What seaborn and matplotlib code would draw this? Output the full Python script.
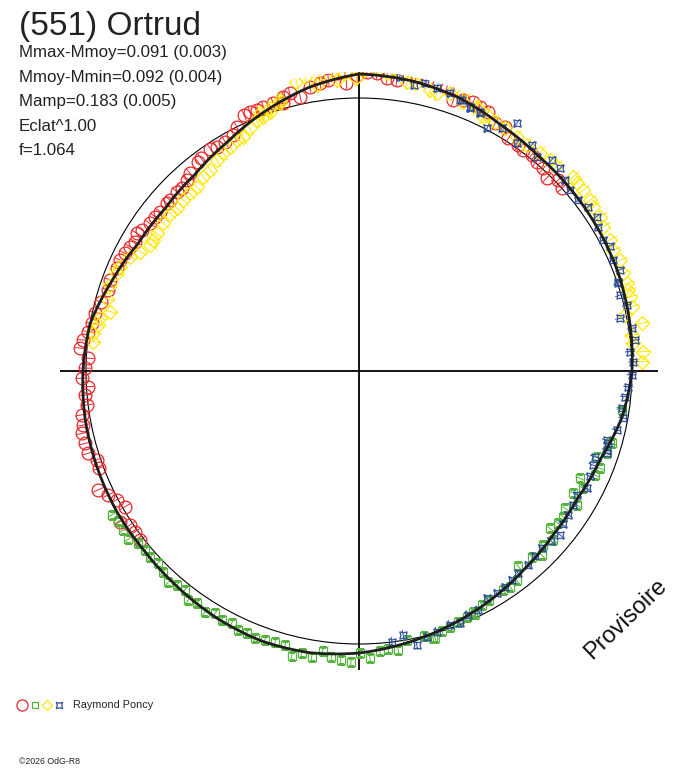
import numpy as np
import matplotlib
matplotlib.use("Agg")
import matplotlib.pyplot as plt
import seaborn as sns

sns.set_theme(style="white")
plt.rcParams['font.family'] = ['Liberation Sans', 'DejaVu Sans']

# texts
title = "(551) Ortrud"
info_lines = ["Mmax-Mmoy=0.091 (0.003)", "Mmoy-Mmin=0.092 (0.004)",
              "Mamp=0.183 (0.005)", "Eclat^1.00", "f=1.064"]
observer = "Raymond Poncy"
credit = "\u00a92026 OdG-R8"
stamp = "Provisoire"

# radial scale: reference circle and axis length (plot units)
ref_radius = 273
axis_radius = 299

# fitted light curve, phase in degrees (clockwise from top)
fit_phase = [0, 10, 20, 30, 40, 50, 60, 70, 80, 90, 100, 110, 120, 130, 140, 150, 160, 170,
             180, 190, 200, 210, 220, 230, 240, 250, 260, 270, 280, 290, 300, 310, 320, 330, 340, 350]
fit_r = [297, 295, 291, 284, 280, 279, 278, 277, 275, 273, 267, 257, 253, 254, 258, 264, 270, 276,
         282, 286, 287, 285, 282, 280, 280, 279, 278, 276, 273, 263, 255, 253, 256, 264, 276, 288]

# observations (4 sessions)
red_phase = [232.3, 234.3, 236.1, 237.8, 239.9, 242.0, 243.7, 245.5, 249.5, 251.3, 253.1, 255.2,
             257.3, 258.9, 261.0, 262.9, 265.0, 266.7, 268.5, 270.6, 272.7, 274.7, 276.4, 278.3,
             280.1, 282.5, 285.0, 287.9, 290.1, 293.0, 294.9, 296.7, 298.5, 300.0, 301.8, 303.0,
             305.2, 307.1, 308.7, 311.1, 312.1, 314.5, 315.9, 317.9, 319.5, 322.4, 323.4, 326.2,
             327.6, 329.7, 332.0, 333.4, 335.8, 337.2, 338.6, 340.1, 342.2, 344.2, 344.6, 346.0,
             347.9, 350.2, 352.3, 354.0, 356.0, 357.5, 359.6, 1.5, 3.4, 5.4, 7.4, 11.0, 13.1, 17.2,
             19.2, 21.0, 23.0, 24.6, 26.5, 28.8, 30.9, 32.7, 35.2, 36.6, 38.6, 40.3, 42.3, 44.2,
             46.2, 48.0]
red_r = [276.6, 275.7, 276.0, 282.5, 270.5, 274.5, 279.7, 286.6, 278.0, 277.0, 283.0, 283.4,
         284.0, 281.0, 280.8, 274.4, 275.0, 271.0, 277.4, 274.0, 271.0, 279.9, 277.4, 273.5,
         271.5, 270.0, 267.0, 263.5, 265.0, 263.2, 263.5, 262.0, 260.6, 258.6, 261.5, 259.0,
         256.0, 255.8, 254.9, 255.0, 254.9, 255.7, 254.6, 257.2, 260.0, 264.0, 265.0, 267.0,
         265.6, 265.6, 267.4, 273.2, 280.5, 281.3, 280.3, 281.1, 281.0, 278.2, 284.6, 286.0,
         280.6, 288.5, 290.3, 292.6, 298.4, 288.0, 296.0, 299.4, 298.2, 294.0, 293.4, 301.6, 298.8, 296.0,
         287.0, 290.4, 292.6, 290.7, 289.8, 282.6, 284.6, 276.5, 276.5, 275.4, 276.5, 274.6, 274.0, 269.0,
         276.0, 272.9]

green_phase = [98.4, 106.0, 106.1, 108.4, 109.8, 112.0, 113.8, 115.9, 117.6, 119.7, 121.6, 123.7,
               125.5, 127.4, 129.5, 131.0, 133.4, 135.2, 137.1, 140.8, 143.0, 145.0, 146.6, 150.5,
               152.3, 154.5, 154.6, 156.3, 158.4, 160.4, 162.3, 164.1, 164.5, 166.2, 169.9, 172.0,
               174.0, 175.7, 177.8, 179.8, 181.6, 183.6, 185.5, 187.4, 189.4, 191.5, 193.3, 195.1,
               197.2, 199.3, 201.3, 203.2, 205.0, 206.8, 208.9, 210.7, 212.6, 214.9, 216.7, 218.5,
               220.4, 222.1, 224.3, 226.3, 228.3, 230.1, 232.0, 233.9, 236.0, 238.0, 239.8]
green_r = [265.6, 262.8, 261.2, 261.0, 252.7, 259.9, 257.9, 245.7, 253.1, 246.7, 255.6, 247.6,
           250.9, 250.8, 247.4, 257.5, 253.5, 259.3, 253.6, 251.8, 261.8, 263.3, 262.3, 263.0,
           264.2, 269.3, 266.5, 268.3, 269.6, 271.4, 272.5, 277.9, 277.4, 272.9, 273.2, 281.8,
           279.5, 280.5, 286.9, 282.3, 290.8, 289.6, 287.0, 282.0, 289.6, 288.1, 292.8, 283.8,
           283.4, 285.0, 286.8, 285.3, 285.7, 282.6, 284.3, 281.9, 285.7, 283.4, 285.6, 279.7,
           281.1, 284.2, 280.3, 277.5, 280.0, 279.0, 280.0, 285.6, 284.3, 284.0, 286.2]

yellow_phase = [276.3, 278.1, 280.0, 281.5, 283.4, 286.0, 289.0, 292.0, 293.6, 296.5, 298.6, 301.1,
                302.5, 304.2, 307.0, 309.8, 311.8, 314.2, 316.4, 318.6, 321.3, 323.5, 326.0, 328.1,
                330.1, 332.1, 333.7, 335.8, 337.8, 339.0, 339.4, 341.1, 341.3, 343.6, 343.7, 347.8,
                349.6, 351.6, 353.4, 355.6, 357.3, 359.5, 1.1, 3.3, 5.3, 7.1, 9.4, 11.3, 14.2, 15.6,
                18.1, 20.6, 21.2, 24.0, 24.1, 26.0, 26.5, 28.6, 31.0, 33.9, 36.6, 39.7, 42.2, 44.0,
                47.8, 49.2, 51.1, 53.5, 55.0, 57.4, 59.4, 62.4, 64.6, 67.0, 69.7, 71.9, 73.3, 74.7,
                76.7, 78.1, 80.4, 82.5, 84.2, 86.1, 88.1]
yellow_r = [267.3, 268.3, 264.7, 264.3, 256.0, 262.0, 263.5, 261.3, 260.8, 256.0, 249.4, 244.0,
            243.9, 244.7, 245.2, 246.0, 244.3, 245.2, 245.2, 245.6, 249.0, 250.2, 254.5, 256.5,
            258.8, 261.4, 261.3, 266.0, 271.0, 276.0, 271.7, 274.1, 277.4, 279.1, 282.3, 296.0,
            299.2, 289.0, 298.0, 291.9, 298.0, 292.7, 301.0, 303.2, 299.0, 303.4, 293.2, 293.4, 289.8, 288.4,
            292.2, 296.6, 288.8, 289.3, 287.9, 283.0, 286.1, 284.0, 283.0, 282.4, 281.4, 283.1, 284.6, 284.3,
            289.3, 287.4, 288.2, 287.4, 286.2, 286.2, 283.7, 283.1, 281.6, 283.6, 281.8, 281.7, 281.2, 281.0,
            280.2, 271.8, 286.7, 275.0, 275.7, 285.0, 282.9]

blue_phase = [7.9, 10.8, 12.9, 15.4, 18.1, 20.4, 20.8, 22.8, 22.9, 25.0, 25.2, 27.8, 30.5, 32.5,
              34.7, 37.4, 39.7, 42.4, 44.8, 47.2, 49.4, 52.1, 54.4, 57.0, 58.9, 61.8, 63.5, 66.4,
              68.8, 71.0, 71.3, 73.8, 76.2, 78.6, 81.1, 83.6, 85.9, 88.1, 90.8, 93.3, 95.5, 98.1,
              100.1, 102.9, 105.6, 106.2, 107.7, 108.4, 110.0, 111.9, 114.5, 117.3, 119.5, 122.0,
              124.5, 127.0, 129.2, 131.5, 134.1, 136.5, 138.9, 141.8, 143.8, 146.0, 148.2, 150.7,
              153.5, 155.9, 158.2, 160.3, 163.4, 165.7, 168.1, 170.5, 173.1]
blue_r = [297.1, 291.1, 295.2, 293.2, 292.2, 289.2, 289.8, 286.7, 285.2, 286.1, 284.7, 274.2, 281.5, 293.6,
          277.0, 284.4, 278.4, 285.7, 285.5, 280.9, 278.0, 278.1, 282.1, 283.4, 279.4, 277.2, 281.0, 277.5,
          279.9, 274.3, 273.7, 271.8, 275.7, 266.3, 276.0, 277.7, 271.7, 274.5, 272.7, 269.8, 267.2, 265.3,
          268.5, 264.4, 257.1, 259.6, 260.0, 261.0, 251.1, 252.5, 254.0, 256.1, 251.0, 252.7,
          254.0, 255.0, 259.4, 256.0, 254.6, 255.0, 257.5, 257.5, 258.8, 261.0, 261.5, 260.7,
          267.1, 267.4, 271.8, 269.8, 272.0, 274.2, 280.0, 267.7, 272.7]

sessions = [
    # phase, r, marker, size, colour, error
    (red_phase, red_r, 'o', 9.2, '#e8262b', 6),
    (green_phase, green_r, 's', 6.0, '#55b33e', 5),
    (yellow_phase, yellow_r, 'D', 6.8, '#ffe800', 8),
    (blue_phase, blue_r, (4, 1, 45), 7.5, '#2f4f9f', 5),
]

W, H = 688, 768
fig = plt.figure(figsize=(W / 100, H / 100), dpi=100)
cx, cy = 359, 371
ax = fig.add_axes([(cx - axis_radius) / W, (H - cy - axis_radius) / H,
                   2 * axis_radius / W, 2 * axis_radius / H], projection='polar')
ax.set_theta_zero_location('N')
ax.set_theta_direction(-1)
ax.set_ylim(0, axis_radius)
ax.set_facecolor('none')
ax.spines['polar'].set_visible(False)
ax.set_thetagrids([0, 90, 180, 270], labels=[''] * 4)
ax.set_rgrids([ref_radius], labels=[''])
ax.xaxis.grid(True, color='black', linewidth=1.3)
ax.yaxis.grid(True, color='black', linewidth=0.8)
ax.tick_params(length=0)

for ph, rr, mk, ms, col, err in sessions:
    ax.errorbar(np.deg2rad(ph), rr, yerr=err, fmt='none', ecolor=col,
                elinewidth=0.7, capsize=0, zorder=3)
    ax.plot(np.deg2rad(ph), rr, linestyle='none', marker=mk, ms=ms, mfc='none',
            mec=col, mew=0.9, zorder=3)

# closed fitted curve, drawn along the polar grid between readings
fit_t = np.deg2rad(fit_phase + [360])
fit_y = fit_r + [fit_r[0]]
sns.lineplot(x=fit_t, y=fit_y, sort=False, estimator=None, color='#1e1e1e',
             linewidth=2.0, ax=ax, zorder=5)
fit_line = ax.lines[-1]
fit_line.get_path()._interpolation_steps = 20
ax.set_xlabel('')
ax.set_ylabel('')

# overlay in pixel units for texts and the session key
ov = fig.add_axes([0, 0, 1, 1], facecolor='none')
ov.set_xlim(0, W)
ov.set_ylim(H, 0)
ov.axis('off')

ov.text(19, 35, title, fontsize=24, color='#222222', va='baseline', ha='left')
for i, line in enumerate(info_lines):
    ov.text(19, 57 + i * 24.6, line, fontsize=12.2, color='#222222', va='baseline', ha='left')

ov.text(626, 619, stamp, fontsize=17, rotation=44, rotation_mode='anchor',
        ha='center', va='center', color='#111111')

key_x = [22, 35, 47, 59]
key_ms = [8.0, 5.0, 5.5, 6.5]
for (ph, rr, mk, ms, col, err), kx, kms in zip(sessions, key_x, key_ms):
    ov.plot(kx, 705, marker=mk, ms=kms, mfc='none', mec=col, mew=0.9, linestyle='none')
ov.text(73, 705, observer, fontsize=7.8, va='center', ha='left', color='#222222')
ov.text(19, 762, credit, fontsize=6.3, va='center', ha='left', color='#222222')

fig.savefig('out.png', dpi=100, facecolor='white')
